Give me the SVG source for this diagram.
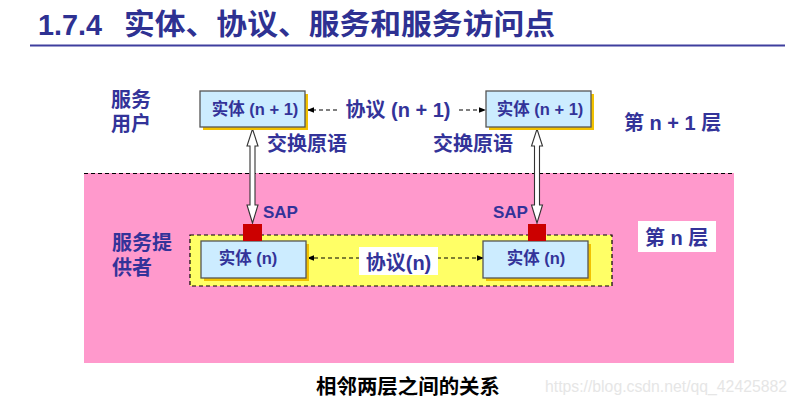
<svg xmlns="http://www.w3.org/2000/svg" width="797" height="402" viewBox="0 0 797 402">
<style>
  text { font-family: "Liberation Sans", "Noto Sans CJK SC", sans-serif; font-weight: bold; }
  .blue { fill: #333399; }
  .ent { fill: #CCECFF; stroke: #555555; stroke-width: 1.3; }
  .shadow { fill: #F2C200; }
  .dash { stroke: #000; stroke-width: 1.2; stroke-dasharray: 4 3; fill: none; }
  .hollow { fill: #FFFFFF; stroke: #333333; stroke-width: 1.1; }
  .sap { fill: #CC0000; }
</style>
<defs>
  <marker id="ah" viewBox="0 0 10 10" refX="10" refY="5" markerWidth="7" markerHeight="7" markerUnits="userSpaceOnUse" orient="auto">
    <path d="M0,1 L10,5 L0,9 Z" fill="#000"/>
  </marker>
</defs>
<rect width="797" height="402" fill="#FFFFFF"/>

<g id="title">
  <text x="38" y="35" font-size="29" fill="#2E3192" textLength="64" lengthAdjust="spacingAndGlyphs">1.7.4</text>
  <text x="124" y="35" font-size="29" fill="#2E3192" textLength="431" lengthAdjust="spacingAndGlyphs">实体、协议、服务和服务访问点</text>
  <line x1="30" y1="45.5" x2="785" y2="45.5" stroke="#3F3F9E" stroke-width="2.2"/>
</g>

<g id="layer-n">
  <rect x="84" y="173" width="650" height="190" fill="#FF99CC"/>
  <line x1="84" y1="173.5" x2="734" y2="173.5" class="dash" stroke-dasharray="6 4"/>
  <text x="112" y="250" font-size="20" class="blue">服务提</text>
  <text x="112" y="275" font-size="20" class="blue">供者</text>
</g>

<g id="provider-area">
  <rect x="190" y="235" width="422" height="51" class="dash" style="fill:#FFFF66" stroke-dasharray="5 3"/>
</g>

<g id="layer-n1-labels">
  <text x="111" y="107" font-size="20" class="blue">服务</text>
  <text x="111" y="131" font-size="20" class="blue">用户</text>
  <text x="624" y="130" font-size="20" class="blue">第 n + 1 层</text>
</g>

<g id="label-layer-n">
  <rect x="638" y="221" width="78" height="31" fill="#FFFFFF"/>
  <text x="645" y="245" font-size="20" class="blue">第 n 层</text>
</g>

<g id="connectors">
  <line x1="337" y1="110" x2="307" y2="110" class="dash" marker-end="url(#ah)"/>
  <line x1="459" y1="110" x2="486" y2="110" class="dash" marker-end="url(#ah)"/>
  <line x1="395" y1="258" x2="307" y2="258" class="dash" marker-end="url(#ah)"/>
  <line x1="395" y1="258" x2="484" y2="258" class="dash" marker-end="url(#ah)"/>
  <polygon class="hollow" points="252.5,129 258,146 255,146 255,205 258,205 252.5,223 247,205 250,205 250,146 247,146"/>
  <polygon class="hollow" points="537,129 542.5,146 539.5,146 539.5,205 542.5,205 537,223 531.5,205 534.5,205 534.5,146 531.5,146"/>
  <text x="267" y="151" font-size="20" class="blue">交换原语</text>
  <text x="433" y="151" font-size="20" class="blue">交换原语</text>
  <text x="398" y="117" font-size="20" class="blue" text-anchor="middle">协议 (n + 1)</text>
  <rect x="359" y="247" width="79" height="28" fill="#FFFFFF"/>
  <text x="398.5" y="270" font-size="20" class="blue" text-anchor="middle">协议(n)</text>
</g>

<g id="entity-n1-left">
  <rect x="203" y="94" width="105" height="36" class="shadow"/>
  <rect x="200" y="91" width="105" height="36" class="ent"/>
  <text x="255" y="115" font-size="16.5" class="blue" text-anchor="middle">实体 (n + 1)</text>
</g>

<g id="entity-n1-right">
  <rect x="489" y="94" width="105" height="36" class="shadow"/>
  <rect x="486" y="91" width="105" height="36" class="ent"/>
  <text x="540" y="115" font-size="16.5" class="blue" text-anchor="middle">实体 (n + 1)</text>
</g>

<g id="entity-n-left">
  <rect x="204" y="244" width="105" height="37" class="shadow"/>
  <rect x="201" y="241" width="105" height="37" class="ent"/>
  <text x="248" y="264" font-size="16.5" class="blue" text-anchor="middle">实体 (n)</text>
</g>

<g id="entity-n-right">
  <rect x="486" y="244" width="105" height="37" class="shadow"/>
  <rect x="483" y="241" width="105" height="37" class="ent"/>
  <text x="536" y="264" font-size="16.5" class="blue" text-anchor="middle">实体 (n)</text>
</g>

<g id="sap-left">
  <rect x="243" y="224" width="19" height="17" class="sap"/>
  <text x="263" y="218" font-size="17" class="blue">SAP</text>
</g>

<g id="sap-right">
  <rect x="528" y="224" width="18" height="17" class="sap"/>
  <text x="493" y="218" font-size="17" class="blue">SAP</text>
</g>

<g id="caption">
  <text x="316" y="394" font-size="20" fill="#000000" textLength="184" lengthAdjust="spacingAndGlyphs">相邻两层之间的关系</text>
  <text x="545" y="392" font-size="16" fill="#E6E6E6" style="font-weight:normal" textLength="242" lengthAdjust="spacingAndGlyphs">https://blog.csdn.net/qq_42425882</text>
</g>
</svg>
